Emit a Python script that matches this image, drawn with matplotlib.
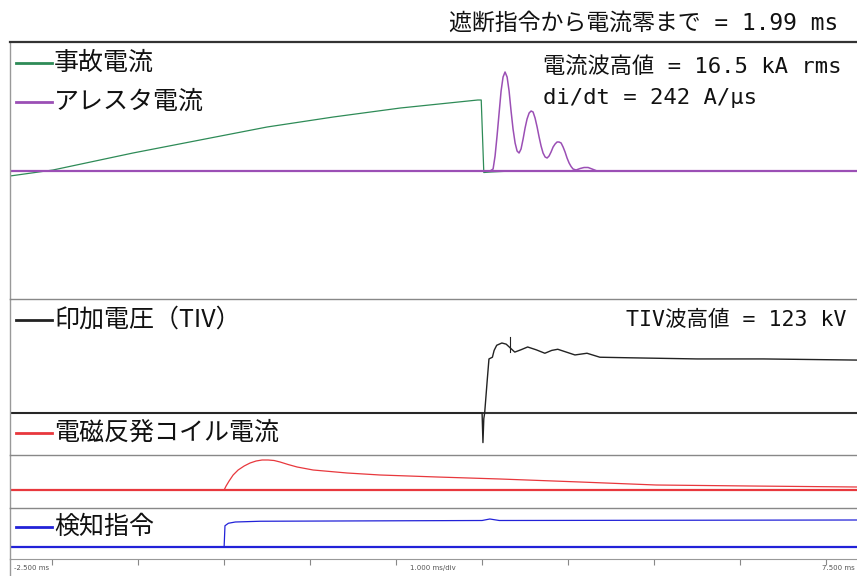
import matplotlib
matplotlib.use("Agg")
import matplotlib.pyplot as plt
from matplotlib.lines import Line2D

plt.rcParams['font.family'] = ['Noto Sans CJK JP', 'DejaVu Sans']

# ---------------- data (time in ms) ----------------
fault_t = [-2.49, -1.99, -1.06, -0.28, 0.50, 1.27, 2.05, 2.95, 2.99, 3.02, 3.10, 3.35, 7.36]
fault_i = [-0.5, 0.1, 1.8, 3.1, 4.4, 5.4, 6.3, 7.1, 7.1, -0.15, -0.1, 0.0, 0.0]

arrester_t = [-2.49, 3.093, 3.128, 3.151, 3.174, 3.198, 3.221, 3.244, 3.267, 3.291,
              3.314, 3.337, 3.360, 3.384, 3.407, 3.430, 3.453, 3.477, 3.500, 3.523,
              3.547, 3.570, 3.593, 3.616, 3.640, 3.663, 3.686, 3.709, 3.733, 3.756,
              3.779, 3.802, 3.826, 3.849, 3.872, 3.895, 3.919, 3.942, 3.965, 3.988,
              4.012, 4.035, 4.058, 4.093, 4.140, 4.186, 4.233, 4.279, 4.337, 7.36]
arrester_i = [0.0, 0.0, 0.2, 1.5, 3.5, 5.8, 8.0, 9.4, 9.9, 9.4,
              8.0, 6.0, 4.2, 2.8, 2.0, 1.8, 2.2, 3.2, 4.3, 5.2,
              5.8, 6.0, 5.9, 5.3, 4.4, 3.4, 2.5, 1.8, 1.4, 1.3,
              1.5, 1.9, 2.4, 2.7, 2.9, 2.9, 2.8, 2.4, 1.9, 1.3,
              0.8, 0.45, 0.2, 0.1, 0.25, 0.35, 0.35, 0.2, 0.0, 0.0]

tiv_t = [-2.49, 3.00, 3.01, 3.02, 3.03, 3.06, 3.08, 3.12, 3.14, 3.17, 3.23, 3.28,
         3.33, 3.38, 3.45, 3.53, 3.63, 3.73, 3.81, 3.88, 3.98, 4.08, 4.22, 4.37,
         4.72, 5.50, 6.27, 7.36]
tiv_kv = [0, 0, -52, -10, 0, 58, 95, 98, 110, 119, 123, 121,
          114, 107, 111, 116, 111, 105, 110, 112, 107, 102, 105, 98,
          97, 95, 95, 93]

coil_t = [-2.49, 0.000, 0.023, 0.058, 0.105, 0.163, 0.233, 0.302, 0.372, 0.442, 0.512,
          0.581, 0.651, 0.744, 0.849, 1.035, 1.233, 1.430, 1.814, 2.477, 3.209,
          4.140, 5.023, 6.116, 7.36]
coil_i = [0.0, 0.0, 0.4, 0.9, 1.5, 2.0, 2.4, 2.7, 2.9, 3.0, 3.0,
          2.95, 2.8, 2.55, 2.3, 2.0, 1.85, 1.7, 1.5, 1.3, 1.1,
          0.8, 0.5, 0.4, 0.3]

detect_t = [-2.49, 0.00, 0.01, 0.05, 0.13, 0.42, 3.00, 3.09, 3.20, 7.36]
detect_s = [0.0, 0.0, 0.85, 0.95, 1.0, 1.03, 1.06, 1.12, 1.06, 1.08]

xticks_ms = [-2, -1, 0, 1, 2, 3, 4, 5, 6, 7]

title_text = "遮断指令から電流零まで = 1.99 ms"
peak_text = "電流波高値 = 16.5 kA rms"
didt_text = "di/dt = 242 A/μs"
tiv_text = "TIV波高値 = 123 kV"
labels = ["事故電流", "アレスタ電流", "印加電圧（TIV）", "電磁反発コイル電流", "検知指令"]

# ---------------- style ----------------
W, H = 857, 576
C_GREEN = "#2e8b57"
C_PURPLE = "#9b4fb5"
C_BLACK = "#222222"
C_RED = "#e8383d"
C_BLUE = "#2222d8"
XLIM = (-2.49, 7.36)
ANNOT_FAMILY = ['DejaVu Sans Mono', 'Noto Sans CJK JP']

fig = plt.figure(figsize=(W / 100, H / 100), dpi=100)
fig.patch.set_facecolor("white")


def fx(x):
    return x / W


def fy(y):
    return 1 - y / H


def add_panel(top, bottom, ylim, top_color="#888888", top_lw=1.0):
    ax = fig.add_axes([fx(10), fy(bottom), fx(W - 10), (bottom - top) / H])
    ax.set_facecolor("none")
    ax.set_xlim(*XLIM)
    ax.set_ylim(*ylim)
    for s in ["right", "bottom"]:
        ax.spines[s].set_visible(False)
    ax.spines["top"].set_color(top_color)
    ax.spines["top"].set_linewidth(top_lw)
    ax.spines["left"].set_color("#999999")
    ax.spines["left"].set_linewidth(1.0)
    ax.set_xticks([])
    ax.set_yticks([])
    return ax


# current panel: baseline at y=171, 10 px per unit
ax_i = add_panel(42, 299, (-12.8, 12.9), top_color="#333333", top_lw=1.6)
ax_i.plot(fault_t, fault_i, color=C_GREEN, lw=0.9)
ax_i.axhline(0, color=C_PURPLE, lw=1.6)
ax_i.plot(arrester_t, arrester_i, color=C_PURPLE, lw=1.1)

# TIV panel: baseline at y=413
kv_px = 70 / 123
ax_v = add_panel(299, 455, (-(455 - 413) / kv_px, (413 - 299) / kv_px))
ax_v.axhline(0, color="#333333", lw=1.5)
ax_v.plot(tiv_t, tiv_kv, color=C_BLACK, lw=1.0)
ax_v.plot([3.33, 3.33], [108, 133], color=C_BLACK, lw=0.8)

# coil panel: baseline at y=490
ax_c = add_panel(455, 508, (-(508 - 490) / 10, (490 - 455) / 10))
ax_c.axhline(0, color=C_RED, lw=1.6)
ax_c.plot(coil_t, coil_i, color=C_RED, lw=0.9)

# detect panel: baseline at y=547
ax_d = add_panel(508, 559, (-(559 - 547) / 25, (547 - 508) / 25))
ax_d.axhline(0, color=C_BLUE, lw=1.6)
ax_d.plot(detect_t, detect_s, color=C_BLUE, lw=0.9)
ax_d.spines["bottom"].set_visible(True)
ax_d.spines["bottom"].set_color("#999999")
ax_d.set_xticks(xticks_ms)
ax_d.tick_params(axis="x", direction="out", length=4, color="#888888",
                 labelbottom=False)

# left border continues below the time axis
fig.add_artist(Line2D([fx(10), fx(10)], [fy(559), fy(576)], color="#999999", lw=1.0))

# ---------------- legend-like labels ----------------
label_y = [63, 102, 320, 433, 527]
label_c = [C_GREEN, C_PURPLE, C_BLACK, C_RED, C_BLUE]
for txt, y, c in zip(labels, label_y, label_c):
    fig.add_artist(Line2D([fx(16), fx(52)], [fy(y), fy(y)], color=c, lw=2.0))
    fig.text(fx(54), fy(y), txt, fontsize=18, color="#111111",
             ha="left", va="center")

# ---------------- annotations ----------------
fig.text(fx(838), fy(23), title_text, fontsize=16.5, color="#111111",
         ha="right", va="center", family=ANNOT_FAMILY)
fig.text(fx(543), fy(67), peak_text, fontsize=16, color="#111111",
         ha="left", va="center", family=ANNOT_FAMILY)
fig.text(fx(543), fy(98), didt_text, fontsize=16, color="#111111",
         ha="left", va="center", family=ANNOT_FAMILY)
fig.text(fx(846), fy(320), tiv_text, fontsize=15.5, color="#111111",
         ha="right", va="center", family=ANNOT_FAMILY)

# bottom scale labels
fig.text(fx(14), fy(568), "-2.500 ms", fontsize=5, color="#555555",
         ha="left", va="center", family="DejaVu Sans")
fig.text(fx(433), fy(568), "1.000 ms/div", fontsize=5, color="#555555",
         ha="center", va="center", family="DejaVu Sans")
fig.text(fx(822), fy(568), "7.500 ms", fontsize=5, color="#555555",
         ha="left", va="center", family="DejaVu Sans")

fig.savefig("out.png", dpi=100, facecolor="white")
